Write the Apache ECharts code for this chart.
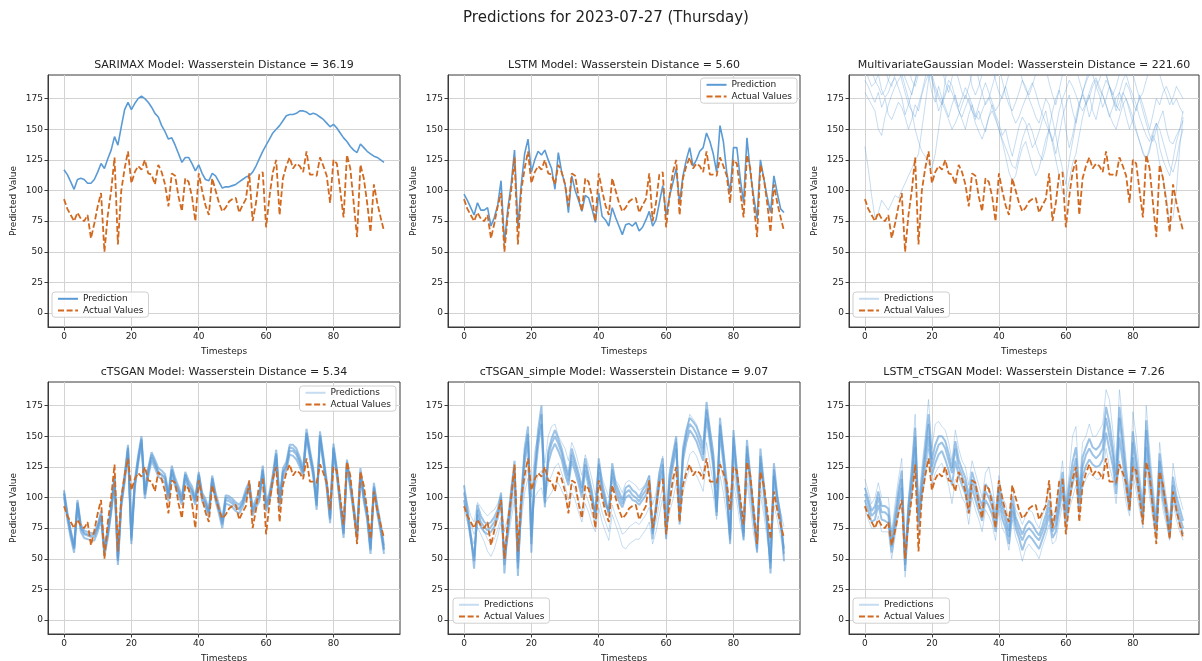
<!DOCTYPE html>
<html><head><meta charset="utf-8">
<script src="https://cdn.jsdelivr.net/npm/echarts@6/dist/echarts.min.js"></script>
<style>html,body{margin:0;padding:0;background:#fff}#c{width:1202px;height:661px}</style>
</head><body><div id="c"></div>
<script>
const FONT = 'DejaVu Sans';
const timesteps = [0,1,2,3,4,5,6,7,8,9,10,11,12,13,14,15,16,17,18,19,20,21,22,23,24,25,26,27,28,29,30,31,32,33,34,35,36,37,38,39,40,41,42,43,44,45,46,47,48,49,50,51,52,53,54,55,56,57,58,59,60,61,62,63,64,65,66,67,68,69,70,71,72,73,74,75,76,77,78,79,80,81,82,83,84,85,86,87,88,89,90,91,92,93,94,95];
const xTicks = [0,20,40,60,80];
const yTicks = [0,25,50,75,100,125,150,175];

const actual = [93,85,80,75,82,77,75,80,61,73, 87,98,50,80,100,127,56,100,118,132, 106,115,120,117,125,114,113,105,121,115, 105,87,114,112,95,83,110,107,95,75, 114,100,88,80,110,100,90,83,86,91, 93,94,82,88,93,114,75,90,113,115, 70,95,115,125,80,110,120,127,118,122, 120,115,132,113,113,112,127,120,112,90, 125,122,100,78,129,118,90,62,121,110, 90,66,105,90,78,67];

const sarimax = [117,113,107,101,109,110,109,106,106,109, 115,122,118,126,133,144,137,152,166,172, 166,171,175,177,175,172,168,163,160,153, 148,142,143,137,130,123,127,127,122,116, 121,114,109,108,114,112,107,102,103,103, 104,105,107,109,111,112,115,120,126,132, 137,142,147,150,153,157,161,162,162,163, 165,165,164,162,163,162,160,158,155,152, 154,151,147,143,140,136,133,131,138,135, 132,130,128,127,125,123];

const lstm = [97,92,86,80,90,84,84,86,71,78, 88,108,57,85,105,133,70,105,130,142, 115,125,132,129,133,125,118,101,131,115, 105,82,112,100,92,83,96,94,85,74, 98,79,76,71,86,78,71,64,72,73, 71,74,67,70,76,83,71,76,90,104, 80,95,106,118,90,112,125,135,120,125, 132,135,147,140,130,115,153,140,115,98, 135,135,110,90,143,115,95,77,125,110, 95,82,112,98,85,82];

const mg1 = [136,118,96,78,82,92,88,84,90,96, 94,100,106,112,118,124,130,150,170,190, 210,230,220,205,215,230,240,225,210,220, 235,225,210,200,215,230,220,205,195,210, 225,215,200,210,225,235,220,205,215,230, 220,205,210,225,240,230,215,205,220,235, 225,210,220,235,245,230,215,225,240,230, 215,225,240,230,215,205,220,235,225,210, 220,235,225,210,200,215,230,220,205,215, 230,220,205,215,225,210];
const mg2 = [190,185,178,172,180,168,175,162,158,165, 172,168,160,150,158,170,165,178,188,195, 180,172,185,175,168,160,170,178,165,158, 150,162,170,158,165,155,148,160,170,162, 155,145,150,138,128,140,152,160,155,145, 135,140,148,158,165,150,142,130,145,160, 170,178,165,155,168,180,172,160,170,185, 178,168,175,185,180,170,165,178,188,182, 172,165,178,170,160,150,162,175,170,180, 185,178,170,175,168,163];
const mg3 = [200,192,185,188,195,182,176,180,188,192, 184,176,162,170,180,190,198,205,210,200, 192,178,165,172,180,190,186,175,168,176, 184,178,170,162,158,165,172,176,168,160, 150,142,135,128,120,118,130,142,150,155, 148,138,130,125,135,150,165,175,182,170, 150,135,145,160,172,178,170,176,185,190, 182,178,170,160,168,176,180,172,160,150, 158,168,175,165,155,145,140,150,158,165, 150,140,138,145,150,157];
const mg4 = [215,205,198,190,185,178,182,190,198,205, 210,200,192,185,178,190,205,215,210,200, 190,182,175,170,178,186,180,172,165,160, 168,175,165,155,148,142,150,160,165,158, 150,140,128,115,108,112,125,135,140,130, 120,112,118,130,142,150,138,125,112,98, 95,108,122,130,145,160,170,178,165,158, 170,182,190,185,175,165,172,180,175,168, 160,150,140,132,125,135,145,138,122,110, 95,74,78,100,135,160];
const mg5 = [230,220,205,196,205,215,200,190,185,195, 205,190,180,170,165,150,140,132,128,122, 118,130,150,170,190,205,215,200,190,180, 175,185,195,205,190,180,170,175,185,195, 200,190,178,170,165,172,180,190,185,175, 168,160,155,165,175,170,158,145,130,118, 105,125,140,155,170,180,190,200,195,185, 190,200,195,185,175,168,180,190,195,185, 178,170,160,152,145,140,148,155,135,125, 118,112,125,140,150,165];
const mg6 = [260,250,240,235,245,255,240,225,215,230, 240,225,210,200,190,185,195,210,225,235, 240,230,215,200,188,180,192,205,220,230, 215,200,185,178,185,195,210,220,205,190, 180,175,185,195,210,220,205,190,182,178, 186,195,205,215,200,188,178,170,182,195, 210,225,215,200,190,180,188,195,205,215, 225,210,195,185,178,185,195,205,215,205, 195,185,175,180,190,200,210,205,195,185, 178,170,176,185,180,175];
const mg7 = [180,175,170,165,150,145,160,170,178,185, 190,195,185,175,165,160,170,180,192,200, 195,185,178,172,165,158,150,155,162,170, 178,172,165,160,170,180,188,180,172,165, 170,178,185,175,162,155,160,168,175,182, 188,180,170,162,155,148,140,150,165,175, 182,190,185,178,170,165,172,180,188,192, 185,178,170,162,155,150,160,170,175,165, 155,148,140,130,125,132,145,155,150,140, 130,120,115,125,140,150];

const ctsganHi = [106,88,73,61,98,78,73,72,71,71, 78,89,59,74,94,118,51,99,119,143, 69,114,134,150,106,124,137,131,124,122, 119,104,126,116,109,101,121,114,109,100, 121,104,99,90,118,104,94,82,102,101, 99,96,94,98,107,113,92,99,104,126, 96,104,119,139,99,124,129,143,143,140, 133,124,156,139,124,97,154,134,114,86, 144,124,99,74,131,114,94,72,124,104, 89,61,112,94,79,61];
const ctsganMid = [103,85,70,58,95,75,70,69,68,68, 75,85,55,70,90,115,48,95,115,140, 65,110,130,147,102,120,133,127,120,118, 115,100,122,112,105,97,118,110,105,97, 118,100,95,87,115,100,90,78,98,97, 95,92,90,95,103,110,88,95,100,122, 92,100,115,135,95,120,125,138,138,135, 128,120,152,135,120,93,150,130,110,82, 140,120,95,70,128,110,90,68,120,100, 85,57,108,90,75,57];
const ctsganMid2 = [104,86,72,59,96,76,71,70,69,70, 76,86,57,71,91,116,49,96,116,141, 67,111,131,148,103,122,135,128,121,119, 117,102,123,113,106,98,119,111,106,98, 119,102,96,88,116,101,91,80,100,99, 97,94,91,96,104,111,89,96,101,123, 94,101,116,136,96,121,126,141,140,137, 130,121,153,136,121,94,151,131,111,83, 141,121,96,71,129,111,91,69,121,101, 86,58,109,91,76,58];
const ctsganLo = [100,82,67,55,92,72,67,66,65,65, 72,82,52,67,87,111,45,92,112,137, 62,107,127,144,99,117,130,124,117,115, 112,97,119,109,102,94,115,107,102,94, 115,97,92,84,112,97,87,75,95,94, 92,89,87,92,100,107,85,92,97,119, 89,97,112,132,92,117,122,135,134,131, 125,117,149,132,117,90,147,127,107,79, 137,117,92,67,125,107,87,65,117,97, 82,54,105,87,72,54];

const simpleA = [110,92,70,42,94,85,80,78,80,84, 90,104,38,78,105,130,36,100,140,158, 55,125,155,175,92,138,148,155,148,140, 128,118,140,130,120,108,132,118,105,82, 132,112,100,85,128,112,105,98,108,110, 106,104,100,106,110,118,66,95,120,132, 66,118,135,150,78,140,155,165,162,158, 150,140,178,155,135,85,165,138,110,62, 155,122,95,65,147,118,88,55,140,112, 82,38,128,102,85,48];
const simpleB = [104,88,68,48,90,80,76,73,76,80, 86,100,45,74,100,124,42,96,134,152, 62,120,148,168,96,134,144,150,144,136, 124,114,135,126,116,104,127,114,101,86, 127,108,96,88,123,108,101,95,104,106, 102,100,97,102,106,113,70,92,115,127, 70,113,130,145,82,135,150,160,157,152, 144,135,172,150,130,88,159,133,106,66, 149,118,92,68,142,114,85,58,134,108, 80,42,123,99,82,54];
const simpleC = [98,84,66,52,86,76,72,70,72,76, 83,96,50,71,96,119,47,92,128,146, 68,114,142,160,100,128,138,144,138,131, 119,110,130,121,111,100,122,109,97,88, 121,104,93,90,117,104,97,92,100,102, 98,97,94,98,102,109,74,89,110,122, 74,108,125,140,86,130,145,155,151,146, 138,130,165,145,125,92,152,128,102,70, 142,113,89,71,136,110,82,62,128,104, 78,47,118,95,79,58];
const simpleL1 = [95,86,78,70,82,78,72,66,62,66, 74,84,60,70,88,105,58,88,112,124, 85,108,118,122,100,112,118,125,128,120, 110,98,112,106,98,88,104,96,86,78, 100,88,80,72,94,85,78,70,72,76, 78,80,78,82,86,92,72,80,95,110, 76,96,108,122,88,112,124,135,138,134, 126,118,145,128,112,88,130,114,94,72, 122,104,86,72,120,98,78,62,110,92, 72,52,100,88,74,60];
const simpleL2 = [90,80,70,62,76,70,64,56,52,58, 68,80,55,65,82,98,50,80,104,116, 80,100,105,108,95,100,104,110,112,106, 100,90,104,98,88,80,95,88,78,72, 92,80,72,65,86,78,70,60,58,62, 64,66,66,70,74,80,62,72,86,100, 68,88,98,112,80,104,115,124,122,118, 112,105,130,116,102,82,118,104,86,64, 112,96,78,66,112,92,70,56,102,86, 66,46,94,82,68,52];
const simpleL3 = [105,95,85,80,96,92,88,85,88,90, 95,102,72,85,110,126,68,108,138,150, 100,138,150,160,128,150,158,160,150,145, 140,130,145,138,128,118,135,126,115,102, 128,116,108,100,120,114,110,104,112,114, 112,110,106,108,112,118,94,104,122,134, 90,122,134,148,104,138,152,168,164,160, 152,145,170,158,140,108,160,140,118,86, 150,126,102,80,140,120,94,72,132,112, 86,62,118,102,88,76];

const lcUp = [115,105,95,100,112,100,100,100,72,95, 115,132,55,100,130,168,95,125,150,180, 140,160,162,158,155,145,130,155,140,130, 125,110,130,120,110,100,120,125,110,90, 118,100,95,80,110,90,85,78,85,90, 88,80,75,85,95,110,85,90,110,130, 95,120,150,158,110,145,150,160,150,150, 155,160,188,180,155,130,188,160,130,100, 170,150,120,95,175,140,110,85,145,120, 100,80,128,110,100,90];
const lcHi = [108,99,89,93,105,93,93,91,65,86, 106,122,49,94,121,157,86,116,141,168, 131,143,150,150,146,136,124,146,131,123, 116,101,121,111,101,93,111,107,99,83, 110,95,86,73,101,84,77,70,77,81, 78,73,69,77,86,98,77,83,101,121, 89,111,129,141,101,133,141,148,141,139, 142,148,174,161,142,118,174,148,121,95, 154,133,111,89,163,128,101,79,136,111, 94,74,117,101,91,81];
const lcMid = [103,95,85,88,100,88,88,85,60,80, 100,115,45,90,115,150,80,110,135,160, 125,135,143,145,140,130,120,140,125,118, 110,95,115,105,95,88,105,100,92,78, 105,90,80,68,95,80,72,65,72,75, 72,68,65,72,80,92,72,78,95,115, 85,105,120,132,95,125,135,140,135,132, 135,140,165,150,135,110,165,140,115,92, 145,125,105,85,155,120,95,75,130,105, 90,70,110,95,85,75];
const lcLo = [98,89,80,82,94,82,81,79,55,75, 93,108,40,85,108,141,76,105,126,150, 118,128,135,138,131,122,110,130,118,110, 103,87,108,98,89,81,98,93,86,72, 98,83,75,62,89,75,67,57,65,69, 66,62,58,66,74,86,67,72,89,106, 79,98,111,122,90,117,126,131,127,125, 126,131,153,139,126,103,149,129,106,89, 133,115,98,80,141,111,89,70,121,98, 84,68,103,89,79,70];
const lcLow = [92,82,75,75,85,72,72,72,50,68, 85,100,35,78,100,130,70,100,115,140, 110,120,125,128,120,110,95,115,110,100, 95,78,100,90,82,72,90,85,78,65, 90,75,70,57,82,68,60,48,58,62, 58,55,50,60,68,78,62,65,80,95, 72,90,100,110,85,108,115,120,118,115, 115,120,140,125,115,95,130,115,95,85, 120,105,90,75,125,100,82,65,110,90, 78,65,95,82,72,65];

// style per member: 's' single, 'l' light ensemble member, 'c' dense core member
const panels = [
  {title:'SARIMAX Model: Wasserstein Distance = 36.19', preds:[sarimax], kinds:['s'], legend:{left:52, top:292}},
  {title:'LSTM Model: Wasserstein Distance = 5.60', preds:[lstm], kinds:['s'], legend:{right:405, top:78}},
  {title:'MultivariateGaussian Model: Wasserstein Distance = 221.60', preds:[mg1,mg2,mg3,mg4,mg5,mg6,mg7], kinds:['l','l','l','l','l','l','l'], legend:{left:853, top:292}},
  {title:'cTSGAN Model: Wasserstein Distance = 5.34', preds:[ctsganHi,ctsganMid2,ctsganMid,ctsganLo], kinds:['c','c','c','c'], legend:{right:806, top:386}},
  {title:'cTSGAN_simple Model: Wasserstein Distance = 9.07', preds:[simpleL1,simpleL2,simpleL3,simpleA,simpleB,simpleC], kinds:['l','l','l','c','c','c'], legend:{left:453, top:598}},
  {title:'LSTM_cTSGAN Model: Wasserstein Distance = 7.26', preds:[lcUp,lcLow,lcHi,lcMid,lcLo], kinds:['l','l','c','c','c'], legend:{left:853, top:598}}
];
const gridPos = [
  {left:48, top:75, width:352, height:252},
  {left:448, top:75, width:352, height:252},
  {left:849, top:75, width:350, height:252},
  {left:48, top:382, width:352, height:252},
  {left:448, top:382, width:352, height:252},
  {left:849, top:382, width:350, height:252}
];
const BLUE = '#5b9bd5', ORANGE = '#d2691e', AXIS = '#3a3a3a', GRIDC = '#d3d3d3', TXT = '#222';
const STY = {
  s: {color:BLUE, width:1.6},
  l: {color:BLUE, width:1, opacity:0.35},
  c: {color:BLUE, width:2, opacity:0.6}
};
const pts = arr => timesteps.map((t, k) => [t, arr[k]]);

const grid = [], xAxis = [], yAxis = [], series = [], legend = [], graphic = [];
graphic.push({type:'text', x:606, y:18, style:{text:'Predictions for 2023-07-27 (Thursday)', fontSize:15, fontFamily:FONT, fill:TXT, align:'center', verticalAlign:'middle'}});
panels.forEach((p, i) => {
  const g = gridPos[i];
  grid.push(Object.assign({show:true, borderColor:AXIS, borderWidth:1, backgroundColor:'#fff', containLabel:false, outerBoundsMode:'none'}, g));
  graphic.push({type:'text', x:g.left + g.width/2, y:g.top - 10, style:{text:p.title, fontSize:11, fontFamily:FONT, fill:TXT, align:'center', verticalAlign:'middle'}});
  xAxis.push({gridIndex:i, type:'value', min:-4.75, max:99.75,
    name:'Timesteps', nameLocation:'middle', nameGap:20, nameTextStyle:{fontSize:9, fontFamily:FONT, color:TXT},
    axisLine:{onZero:false, lineStyle:{color:AXIS, width:1}},
    axisTick:{customValues:xTicks, length:3.5, lineStyle:{color:AXIS}},
    axisLabel:{customValues:xTicks, fontSize:9, fontFamily:FONT, color:TXT, margin:5},
    splitLine:{show:true, lineStyle:{color:GRIDC, width:1}}});
  yAxis.push({gridIndex:i, type:'value', min:-11.4, max:194.3,
    name:'Predicted Value', nameLocation:'middle', nameGap:30, nameTextStyle:{fontSize:9, fontFamily:FONT, color:TXT},
    axisLine:{onZero:false, lineStyle:{color:AXIS, width:1}},
    axisTick:{customValues:yTicks, length:3.5, lineStyle:{color:AXIS}},
    axisLabel:{customValues:yTicks, fontSize:9, fontFamily:FONT, color:TXT, margin:5},
    splitLine:{show:true, lineStyle:{color:GRIDC, width:1}}});
  const pname = p.kinds[0] === 's' ? 'Prediction' : 'Predictions';
  p.preds.forEach((arr, k) => {
    series.push({type:'line', name:pname, xAxisIndex:i, yAxisIndex:i, data:pts(arr), symbol:'none', silent:true, clip:true,
      lineStyle: STY[p.kinds[k]], itemStyle:{color:BLUE}});
  });
  series.push({type:'line', name:'Actual Values', xAxisIndex:i, yAxisIndex:i, data:pts(actual), symbol:'none', silent:true, clip:true,
    lineStyle:{color:ORANGE, width:1.8, type:[6,2.6]}, itemStyle:{color:ORANGE}});
  legend.push(Object.assign({orient:'vertical', data:[pname, 'Actual Values'], selectedMode:false,
    itemWidth:20, itemHeight:12, itemGap:2, padding:[2,5,2,5],
    itemStyle:{opacity:0},
    backgroundColor:'rgba(255,255,255,0.85)', borderColor:'#cfcfcf', borderWidth:1, borderRadius:3,
    textStyle:{fontSize:9, fontFamily:FONT, color:TXT}}, p.legend));
});

const chart = echarts.init(document.getElementById('c'), null, {renderer:'canvas'});
chart.setOption({animation:false, backgroundColor:'#fff', textStyle:{fontFamily:FONT}, grid, xAxis, yAxis, series, legend, graphic});
</script></body></html>
